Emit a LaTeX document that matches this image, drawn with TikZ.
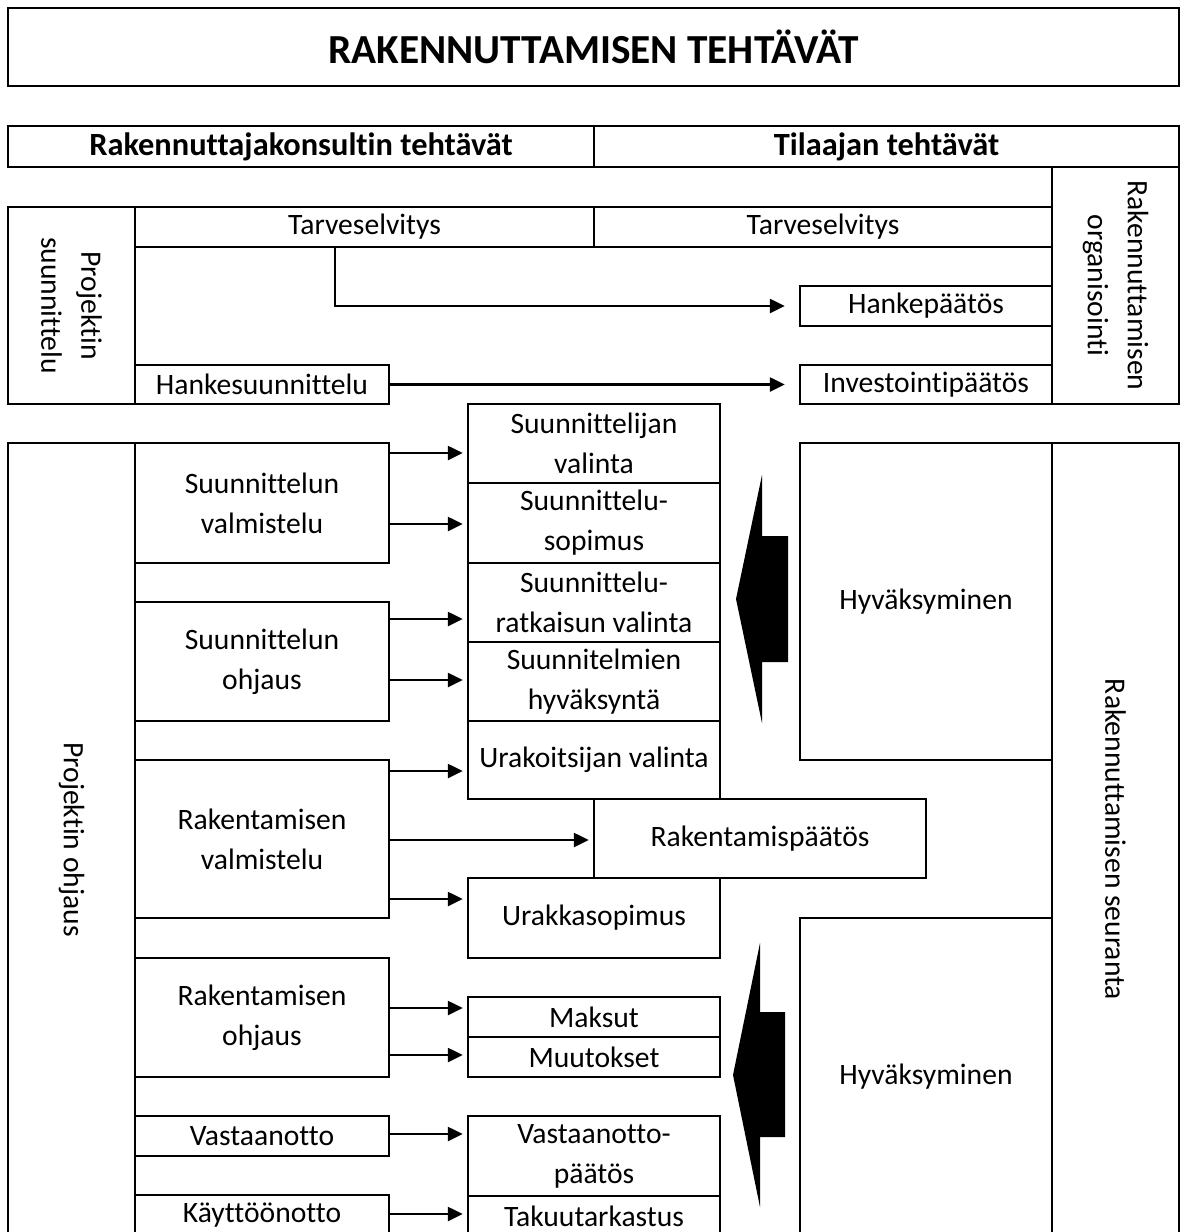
\documentclass[tikz,border=0pt]{standalone}
\usepackage{fontspec}
\setmainfont{Carlito}[Ligatures=NoCommon]
\usetikzlibrary{arrows.meta}
\newcommand{\bodysize}{\fontsize{29.6}{40}\selectfont}

\begin{document}
\begin{tikzpicture}[x=1pt, y=-1pt, line width=2.4pt, font=\bodysize,
  cell/.style={draw, inner sep=0pt, align=center},
  head/.style={cell, font=\fontsize{32.4}{40}\selectfont\bfseries, minimum height=41pt},
  arr/.style={-{Triangle[length=15pt,width=14pt]}, shorten >=4pt}]
  \useasboundingbox (0,0) rectangle (1186,1232);
  \clip (0,0) rectangle (1186,1232);

  % title and headings
  \node[cell, font=\fontsize{41.3}{50}\selectfont\bfseries, minimum width=1171pt, minimum height=78pt]
        (title) at (593.5,47) {RAKENNUTTAMISEN TEHTÄVÄT};
  \node[head, minimum width=586pt] (konsultti) at (301,146.5) {Rakennuttajakonsultin tehtävät};
  \node[head, minimum width=585pt] (tilaaja) at (886.5,146.5) {Tilaajan tehtävät};

  % projektin suunnittelu
  \node[cell, rotate=-90, minimum width=197pt, minimum height=127pt] (psuun) at (71.5,305.5) {Projektin\\suunnittelu};
  \node[cell, minimum width=459pt, minimum height=40pt] (tarve1) at (364.5,227) {Tarveselvitys};
  \node[cell, minimum width=458pt, minimum height=40pt] (tarve2) at (823,227) {Tarveselvitys};
  \node[cell, rotate=-90, minimum width=237pt, minimum height=127pt] (organ) at (1115.5,285.5) {Rakennuttamisen\\organisointi};
  \node[cell, minimum width=252pt, minimum height=40pt] (hanke) at (926,306) {Hankepäätös};
  \node[cell, minimum width=252pt, minimum height=39pt] (invest) at (926,384.5) {Investointipäätös};
  \node[cell, minimum width=254pt, minimum height=39pt] (hsuun) at (262,384.5) {Hankesuunnittelu};
  \draw[arr, shorten >=14pt] (tarve1.south -| 335,0) |- (hanke.west);
  \draw[arr, shorten >=14pt] (hsuun.east) -- (invest.west);

  % projektin ohjaus, left side
  \node[cell, rotate=-90, minimum width=793pt, minimum height=127pt] (pohj) at (71.5,839.5) {Projektin ohjaus};
  \node[cell, minimum width=254pt, minimum height=120pt] (svalm) at (262,503) {Suunnittelun\\valmistelu};
  \node[cell, minimum width=254pt, minimum height=119pt] (sohj) at (262,661.5) {Suunnittelun\\ohjaus};
  \node[cell, minimum width=254pt, minimum height=158pt] (rvalm) at (262,839) {Rakentamisen\\valmistelu};
  \node[cell, minimum width=254pt, minimum height=119pt] (rohj) at (262,1017.5) {Rakentamisen\\ohjaus};
  \node[cell, minimum width=254pt, minimum height=40pt] (vast) at (262,1136) {Vastaanotto};
  \node[cell, minimum width=254pt, minimum height=41pt] (kaytto) at (262,1215.5) {Käyttöönotto};

  % middle column
  \node[cell, minimum width=252pt, minimum height=79pt] (sval) at (594,443.5) {Suunnittelijan\\valinta};
  \node[cell, minimum width=252pt, minimum height=80pt] (ssop) at (594,523) {Suunnittelu-\\sopimus};
  \node[cell, minimum width=252pt, minimum height=79pt] (srat) at (594,602.5) {Suunnittelu-\\ratkaisun valinta};
  \node[cell, minimum width=252pt, minimum height=79pt] (shyv) at (594,681.5) {Suunnitelmien\\hyväksyntä};
  \node[cell, minimum width=252pt, minimum height=78pt] (uval) at (594,760) {Urakoitsijan valinta};
  \node[cell, minimum width=332pt, minimum height=79pt] (rpaat) at (760,838.5) {Rakentamispäätös};
  \node[cell, minimum width=252pt, minimum height=80pt] (usop) at (594,918) {Urakkasopimus};
  \node[cell, minimum width=252pt, minimum height=40pt] (maksut) at (594,1017) {Maksut};
  \node[cell, minimum width=252pt, minimum height=40pt] (muut) at (594,1057) {Muutokset};
  \node[cell, minimum width=252pt, minimum height=80pt] (vpaat) at (594,1156) {Vastaanotto-\\päätös};
  \node[cell, minimum width=252pt, minimum height=40pt] (takuu) at (594,1216) {Takuutarkastus};

  % right side
  \node[cell, minimum width=252pt, minimum height=317pt] (hyv1) at (926,601.5) {Hyväksyminen};
  \node[cell, minimum width=252pt, minimum height=318pt] (hyv2) at (926,1077) {Hyväksyminen};
  \node[cell, rotate=-90, minimum width=793pt, minimum height=127pt] (seur) at (1115.5,839.5) {Rakennuttamisen seuranta};

  \foreach \from/\to/\yy in {svalm/sval/453, svalm/ssop/524, sohj/srat/619, sohj/shyv/680,
      rvalm/uval/771, rvalm/rpaat/840, rvalm/usop/899, rohj/maksut/1008, rohj/muut/1055,
      vast/vpaat/1134, kaytto/takuu/1214}
    \draw[arr] (\from.east |- 0,\yy) -- (\to.west |- 0,\yy);

  % big arrows
  \fill (788,536) -- (762,536) -- (762,475) -- (736,599) -- (762,723) -- (762,662) -- (788,662) -- cycle;
  \fill (785,1012) -- (760,1012) -- (760,943) -- (733,1075) -- (760,1207) -- (760,1137) -- (785,1137) -- cycle;
\end{tikzpicture}
\end{document}
